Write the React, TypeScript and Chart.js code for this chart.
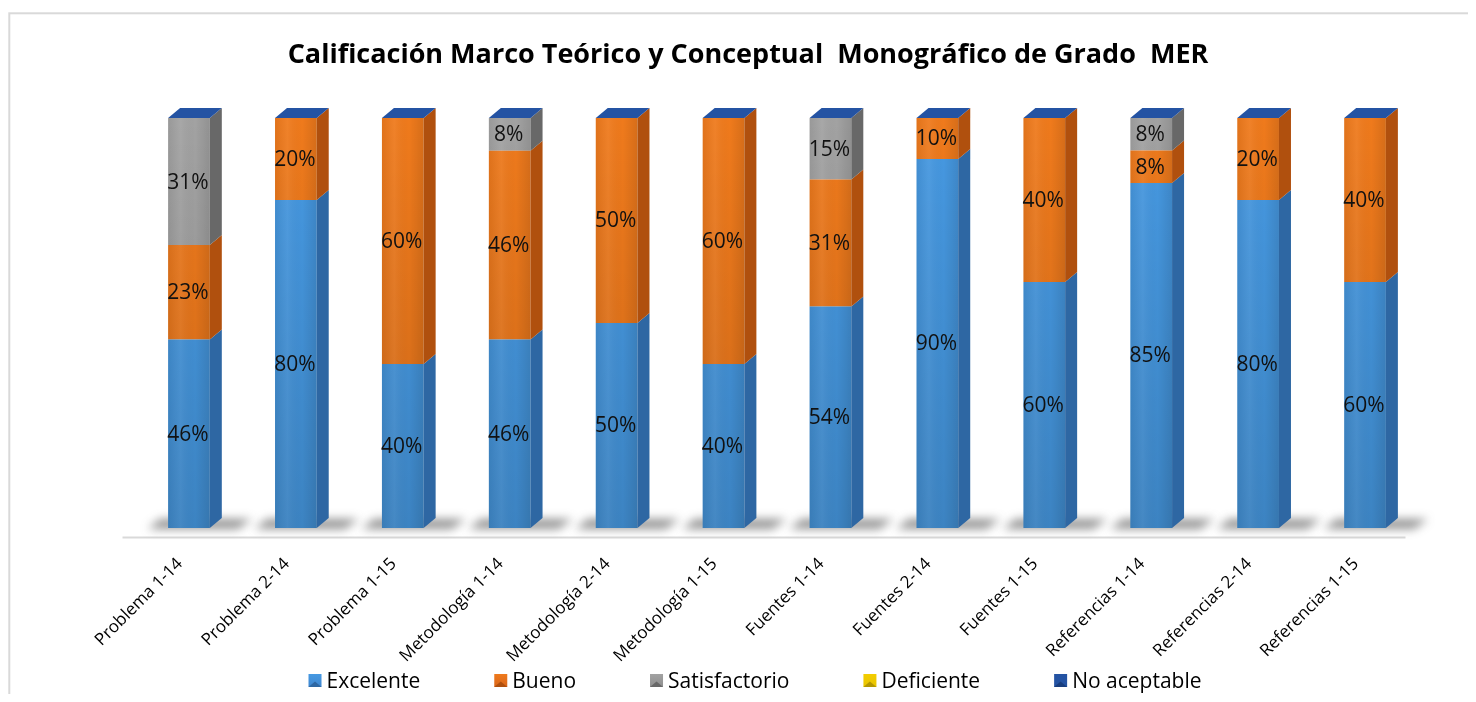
import React, { useEffect, useRef } from "react";
import { Chart, registerables } from "chart.js";

Chart.register(...registerables);

const chartTitle = "Calificación Marco Teórico y Conceptual  Monográfico de Grado  MER";

const categories = [
  "Problema 1-14",
  "Problema 2-14",
  "Problema 1-15",
  "Metodología 1-14",
  "Metodología 2-14",
  "Metodología 1-15",
  "Fuentes 1-14",
  "Fuentes 2-14",
  "Fuentes 1-15",
  "Referencias 1-14",
  "Referencias 2-14",
  "Referencias 1-15",
];

const excelente = [46, 80, 40, 46, 50, 40, 54, 90, 60, 85, 80, 60];
const bueno = [23, 20, 60, 46, 50, 60, 31, 10, 40, 8, 20, 40];
const satisfactorio = [31, 0, 0, 8, 0, 0, 15, 0, 0, 8, 0, 0];
const deficiente = [0, 0, 0, 0, 0, 0, 0, 0, 0, 0, 0, 0];
const noAceptable = [0, 0, 0, 0, 0, 0, 0, 0, 0, 0, 0, 0];

const seriesNames = ["Excelente", "Bueno", "Satisfactorio", "Deficiente", "No aceptable"];
const seriesValues = [excelente, bueno, satisfactorio, deficiente, noAceptable];

const frontColors = ["#4699E2", "#EF7A1C", "#A2A2A2", "#F3CD00", "#2453A3"];
const sideColors = ["#2E67A3", "#B0500E", "#686868", "#B49700", "#183D7E"];
const legendColors = ["#3F86CF", "#D9661A", "#8E8E8E", "#E8C400", "#2453A3"];

const FONT = "'Open Sans', 'DejaVu Sans', sans-serif";
const DX = 12;
const DY = 10;
const CANVAS_W = 1476;
const CANVAS_H = 702;
const PLOT_BOTTOM = 528;

const totals = categories.map((_, i) => seriesValues.reduce((s, arr) => s + arr[i], 0));

const decorPlugin = {
  id: "decor3d",
  beforeDraw(chart: any) {
    const ctx = chart.ctx;
    ctx.save();
    ctx.fillStyle = "#ffffff";
    ctx.fillRect(0, 0, chart.width, chart.height);
    ctx.strokeStyle = "#D9D9D9";
    ctx.lineWidth = 2;
    ctx.strokeRect(9.3, 13.3, chart.width + 50, chart.height + 50);
    ctx.fillStyle = "#000";
    ctx.font = `bold 27px ${FONT}`;
    ctx.textAlign = "center";
    ctx.textBaseline = "alphabetic";
    ctx.fillText(chartTitle, 748, 63);
    ctx.restore();
  },
  beforeDatasetsDraw(chart: any) {
    const ctx = chart.ctx;
    const area = chart.chartArea;
    ctx.save();
    ctx.strokeStyle = "#D9D9D9";
    ctx.lineWidth = 2;
    ctx.beginPath();
    ctx.moveTo(area.left - 13, area.bottom + 9.5);
    ctx.lineTo(area.right - 13, area.bottom + 9.5);
    ctx.stroke();
    const meta0 = chart.getDatasetMeta(0);
    ctx.filter = "blur(5px)";
    ctx.fillStyle = "rgba(60,60,60,0.55)";
    meta0.data.forEach((el: any) => {
      const L = el.x - el.width / 2;
      const R = el.x + el.width / 2;
      const b = area.bottom;
      ctx.beginPath();
      ctx.moveTo(L - 20, b + 1);
      ctx.lineTo(R + 28, b + 1);
      ctx.lineTo(R + 42, b - 9);
      ctx.lineTo(L - 8, b - 9);
      ctx.closePath();
      ctx.fill();
    });
    ctx.filter = "none";
    ctx.restore();
  },
  afterDatasetsDraw(chart: any) {
    const ctx = chart.ctx;
    const area = chart.chartArea;
    ctx.save();
    const nSets = chart.data.datasets.length;
    for (let d = 0; d < nSets; d++) {
      const meta = chart.getDatasetMeta(d);
      meta.data.forEach((el: any) => {
        const top = Math.min(el.y, el.base);
        const bot = Math.max(el.y, el.base);
        if (bot - top < 0.5) return;
        const L = el.x - el.width / 2;
        const R = el.x + el.width / 2;
        const gh = ctx.createLinearGradient(L, 0, R, 0);
        gh.addColorStop(0, "rgba(0,0,0,0.06)");
        gh.addColorStop(0.3, "rgba(255,255,255,0.06)");
        gh.addColorStop(0.65, "rgba(0,0,0,0)");
        gh.addColorStop(1, "rgba(0,0,0,0.1)");
        ctx.fillStyle = gh;
        ctx.fillRect(L, top, R - L, bot - top);
        const gv = ctx.createLinearGradient(0, area.top, 0, area.bottom);
        gv.addColorStop(0, "rgba(0,0,0,0)");
        gv.addColorStop(1, "rgba(0,0,0,0.14)");
        ctx.fillStyle = gv;
        ctx.fillRect(L, top, R - L, bot - top);
        ctx.fillStyle = sideColors[d];
        ctx.beginPath();
        ctx.moveTo(R, top);
        ctx.lineTo(R + DX, top - DY);
        ctx.lineTo(R + DX, bot - DY);
        ctx.lineTo(R, bot);
        ctx.closePath();
        ctx.fill();
      });
    }
    const lastMeta = chart.getDatasetMeta(nSets - 1);
    lastMeta.data.forEach((el: any) => {
      const L = el.x - el.width / 2;
      const R = el.x + el.width / 2;
      const top = Math.min(el.y, el.base);
      ctx.fillStyle = frontColors[nSets - 1];
      ctx.beginPath();
      ctx.moveTo(L, top);
      ctx.lineTo(R, top);
      ctx.lineTo(R + DX, top - DY);
      ctx.lineTo(L + DX, top - DY);
      ctx.closePath();
      ctx.fill();
    });
    ctx.fillStyle = "#111";
    ctx.font = `21px ${FONT}`;
    ctx.textAlign = "center";
    ctx.textBaseline = "middle";
    for (let d = 0; d < nSets; d++) {
      const meta = chart.getDatasetMeta(d);
      const raw = seriesValues[d];
      meta.data.forEach((el: any, i: number) => {
        if (!raw[i]) return;
        ctx.fillText(`${raw[i]}%`, el.x - 1, (el.y + el.base) / 2 + 1);
      });
    }
    ctx.restore();
  },
  afterDraw(chart: any) {
    const ctx = chart.ctx;
    ctx.save();
    ctx.font = `21px ${FONT}`;
    ctx.textBaseline = "alphabetic";
    ctx.textAlign = "left";
    const box = 13;
    const gapText = 5;
    const gapItem = 74;
    const widths = seriesNames.map((n) => box + gapText + ctx.measureText(n).width);
    const total = widths.reduce((a, b) => a + b, 0) + gapItem * (widths.length - 1);
    let x = 755 - total / 2;
    const baseline = 688;
    seriesNames.forEach((n, i) => {
      const by = 674;
      const g = ctx.createLinearGradient(x, by, x, by + box);
      g.addColorStop(0, frontColors[i]);
      g.addColorStop(1, legendColors[i]);
      ctx.fillStyle = g;
      ctx.fillRect(x, by, box, box);
      ctx.fillStyle = sideColors[i];
      ctx.beginPath();
      ctx.moveTo(x, by + box);
      ctx.lineTo(x + box, by + box);
      ctx.lineTo(x + box / 2, by + box / 2 + 1);
      ctx.closePath();
      ctx.fill();
      ctx.fillStyle = "#000";
      ctx.fillText(n, x + box + gapText, baseline);
      x += widths[i] + gapItem;
    });
    ctx.restore();
  },
};

export default function App() {
  const ref = useRef<HTMLCanvasElement | null>(null);

  useEffect(() => {
    if (!ref.current) return;
    const datasets = seriesNames.map((name, d) => ({
      label: name,
      data: seriesValues[d].map((v, i) => (totals[i] ? (v / totals[i]) * 100 : 0)),
      backgroundColor: frontColors[d],
      borderWidth: 0,
      categoryPercentage: 1,
      barPercentage: 0.39,
    }));
    const chart = new Chart(ref.current, {
      type: "bar",
      data: { labels: categories, datasets },
      plugins: [decorPlugin],
      options: {
        responsive: false,
        animation: false,
        layout: { padding: { left: 135.5, right: 57.5, top: 118, bottom: 0 } },
        plugins: {
          legend: { display: false },
          title: { display: false },
          tooltip: { enabled: false },
        },
        scales: {
          x: {
            stacked: true,
            grid: { display: false, drawTicks: false },
            border: { display: false },
            ticks: {
              autoSkip: false,
              maxRotation: 45,
              minRotation: 45,
              padding: 26,
              labelOffset: -9,
              color: "#000",
              font: { family: FONT, size: 17 },
            },
            afterFit: (s: any) => {
              s.height = CANVAS_H - PLOT_BOTTOM;
            },
          },
          y: {
            stacked: true,
            display: false,
            min: 0,
            max: 100,
          },
        },
      },
    });
    return () => chart.destroy();
  }, []);

  return (
    <div style={{ width: CANVAS_W, height: CANVAS_H, margin: -8, overflow: "hidden" }}>
      <canvas ref={ref} width={CANVAS_W} height={CANVAS_H} style={{ display: "block" }} />
    </div>
  );
}
